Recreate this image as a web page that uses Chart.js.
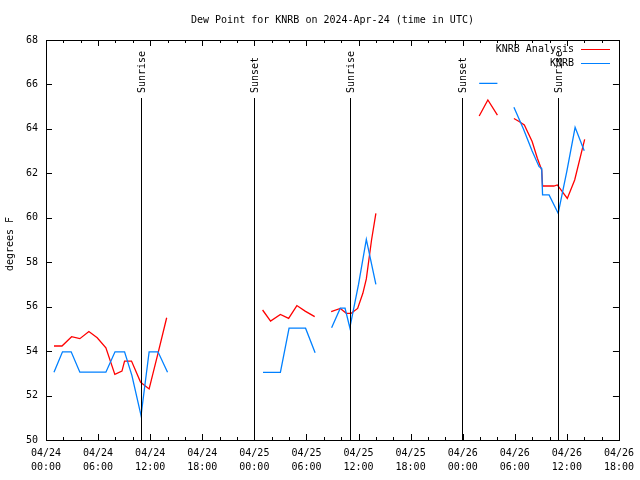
<!DOCTYPE html>
<html>
<head>
<meta charset="utf-8">
<script src="https://cdn.jsdelivr.net/npm/chart.js@4.4.1/dist/chart.umd.min.js"></script>
<style>
  html, body { margin: 0; padding: 0; background: #fff; }
  canvas { display: block; }
</style>
</head>
<body>
<canvas id="canvas" width="640" height="480"></canvas>
<script>
// hours after 04/24 00:00 UTC, null = gap in the record
const redHours = [0.92, 1.84, 2.95, 3.9, 4.94, 5.9, 6.9, 7.93, 8.75, 9.05, 9.85, 10.9, 11.88, 12.9, 13.9, 19,
  24.95, 25.87, 27.0, 27.95, 28.9, 29.85, 30.95, 32,
  32.85, 33.9, 34.6, 35.15, 35.9, 36.5, 36.9, 37.5, 38.0, 44,
  49.9, 50.9, 52.0, 53,
  53.9, 54.5, 55.1, 56.0, 56.6, 57.1, 57.2, 58.5, 58.9, 60.05, 60.9, 62.05];
const redValues = [54.23, 54.23, 54.65, 54.56, 54.88, 54.6, 54.15, 52.95, 53.1, 53.55, 53.55, 52.6, 52.3, 53.9, 55.5, null,
  55.85, 55.35, 55.65, 55.47, 56.05, 55.8, 55.55, null,
  55.78, 55.92, 55.7, 55.7, 55.92, 56.6, 57.25, 59.0, 60.2, null,
  64.58, 65.3, 64.62, null,
  64.47, 64.33, 64.18, 63.43, 62.68, 62.15, 61.43, 61.43, 61.48, 60.87, 61.7, 63.53];

const blueHours = [0.92, 1.9, 2.9, 3.9, 4.9, 5.9, 6.9, 7.95, 9.05, 9.9, 10.95, 11.88, 12.9, 14.0, 19,
  25.0, 26.0, 27.0, 28.0, 29.0, 29.9, 31.0, 32,
  32.9, 33.9, 34.45, 35.0, 36.0, 36.9, 38.0, 44,
  49.9, 50.9, 52.0, 53,
  53.9, 55.0, 56.0, 56.8, 57.1, 57.2, 57.95, 59.0, 60.0, 60.95, 62.0];
const blueValues = [53.05, 53.97, 53.97, 53.05, 53.05, 53.05, 53.05, 53.97, 53.97, 52.9, 51.1, 53.97, 53.97, 53.05, null,
  53.04, 53.04, 53.04, 55.03, 55.03, 55.03, 53.93, null,
  55.05, 55.93, 55.93, 55.05, 57.0, 59.03, 57.0, null,
  66.05, 66.05, 66.05, null,
  64.97, 64.0, 63.0, 62.3, 62.22, 61.03, 61.03, 60.2, 62.1, 64.07, 63.02];

// sun events
const eventHours = [10.98, 23.95, 34.99, 47.95, 59.0];
const eventLabels = ['Sunrise', 'Sunset', 'Sunrise', 'Sunset', 'Sunrise'];

// x tick labels every 6 hours
const xTickValues = [0, 6, 12, 18, 24, 30, 36, 42, 48, 54, 60, 66];
const xTickLabels = [
  ['04/24', '00:00'], ['04/24', '06:00'], ['04/24', '12:00'], ['04/24', '18:00'],
  ['04/25', '00:00'], ['04/25', '06:00'], ['04/25', '12:00'], ['04/25', '18:00'],
  ['04/26', '00:00'], ['04/26', '06:00'], ['04/26', '12:00'], ['04/26', '18:00']
];

const FONT = 'DejaVu Sans Mono';

function toPoints(hours, values) {
  return hours.map((h, i) => ({ x: h, y: values[i] }));
}

// gnuplot style frame, inward ticks, sun markers, legend, titles
const framePlugin = {
  id: 'frame',
  afterDraw(chart) {
    const ctx = chart.ctx;
    const a = chart.chartArea;
    const xs = chart.scales.x;
    const ys = chart.scales.y;
    ctx.save();
    ctx.strokeStyle = '#000';
    ctx.lineWidth = 1;

    // x ticks (major every 6h, minor every 2h)
    ctx.beginPath();
    for (let h = 0; h <= 66; h += 2) {
      const px = Math.round(xs.getPixelForValue(h)) + 0.5;
      const len = (h % 6 === 0) ? 6 : 3;
      ctx.moveTo(px, a.bottom); ctx.lineTo(px, a.bottom - len);
      ctx.moveTo(px, a.top); ctx.lineTo(px, a.top + len);
    }
    // y ticks
    ys.ticks.forEach(t => {
      const py = Math.round(ys.getPixelForValue(t.value)) + 0.5;
      ctx.moveTo(a.left, py); ctx.lineTo(a.left + 6, py);
      ctx.moveTo(a.right, py); ctx.lineTo(a.right - 6, py);
    });
    ctx.stroke();

    // sunrise / sunset lines
    ctx.font = '10px ' + FONT;
    ctx.fillStyle = '#000';
    eventHours.forEach((h, i) => {
      const px = Math.round(xs.getPixelForValue(h)) + 0.5;
      ctx.beginPath();
      ctx.moveTo(px, 98);
      ctx.lineTo(px, a.bottom);
      ctx.stroke();
      ctx.save();
      ctx.translate(px + 1, 93);
      ctx.rotate(-Math.PI / 2);
      ctx.textAlign = 'left';
      ctx.textBaseline = 'middle';
      ctx.fillText(eventLabels[i], 0, 0);
      ctx.restore();
    });

    // frame
    ctx.strokeRect(Math.round(a.left) + 0.5, Math.round(a.top) + 0.5,
      Math.round(a.right - a.left), Math.round(a.bottom - a.top));

    // legend
    ctx.textAlign = 'right';
    ctx.textBaseline = 'middle';
    chart.data.datasets.forEach((ds, i) => {
      const ly = 49 + i * 14;
      ctx.fillStyle = '#000';
      ctx.fillText(ds.label, 574, ly);
      ctx.strokeStyle = ds.borderColor;
      ctx.beginPath();
      ctx.moveTo(581, ly + 0.5);
      ctx.lineTo(610, ly + 0.5);
      ctx.stroke();
    });

    // title and y axis title
    ctx.fillStyle = '#000';
    ctx.textAlign = 'center';
    ctx.textBaseline = 'middle';
    ctx.fillText('Dew Point for KNRB on 2024-Apr-24 (time in UTC)', (a.left + a.right) / 2, 20);
    ctx.save();
    ctx.translate(10, 244);
    ctx.rotate(-Math.PI / 2);
    ctx.fillText('degrees F', 0, 0);
    ctx.restore();
    ctx.restore();
  }
};

new Chart(document.getElementById('canvas').getContext('2d'), {
  type: 'line',
  data: {
    datasets: [
      {
        label: 'KNRB Analysis',
        data: toPoints(redHours, redValues),
        borderColor: '#ff0000',
        borderWidth: 1.3,
        pointRadius: 0,
        tension: 0,
        spanGaps: false,
        order: 2
      },
      {
        label: 'KNRB',
        data: toPoints(blueHours, blueValues),
        borderColor: '#0080ff',
        borderWidth: 1.3,
        pointRadius: 0,
        tension: 0,
        spanGaps: false,
        order: 1
      }
    ]
  },
  options: {
    responsive: false,
    animation: false,
    devicePixelRatio: 1,
    layout: { padding: { top: 40, right: 20, left: 0, bottom: 0 } },
    plugins: {
      legend: { display: false },
      tooltip: { enabled: false }
    },
    scales: {
      x: {
        type: 'linear',
        min: 0,
        max: 66,
        afterFit: s => { s.height = 40; },
        afterBuildTicks: s => { s.ticks = xTickValues.map(v => ({ value: v })); },
        grid: { display: false, drawTicks: false },
        border: { display: false },
        ticks: {
          autoSkip: false,
          maxRotation: 0,
          padding: 6,
          color: '#000',
          font: { family: FONT, size: 10, lineHeight: 1.4 },
          callback: v => xTickLabels[xTickValues.indexOf(v)]
        }
      },
      y: {
        min: 50,
        max: 68,
        afterFit: s => { s.width = 46; },
        grid: { display: false, drawTicks: false },
        border: { display: false },
        ticks: {
          stepSize: 2,
          padding: 8,
          color: '#000',
          font: { family: FONT, size: 10 }
        }
      }
    }
  },
  plugins: [framePlugin]
});
</script>
</body>
</html>
